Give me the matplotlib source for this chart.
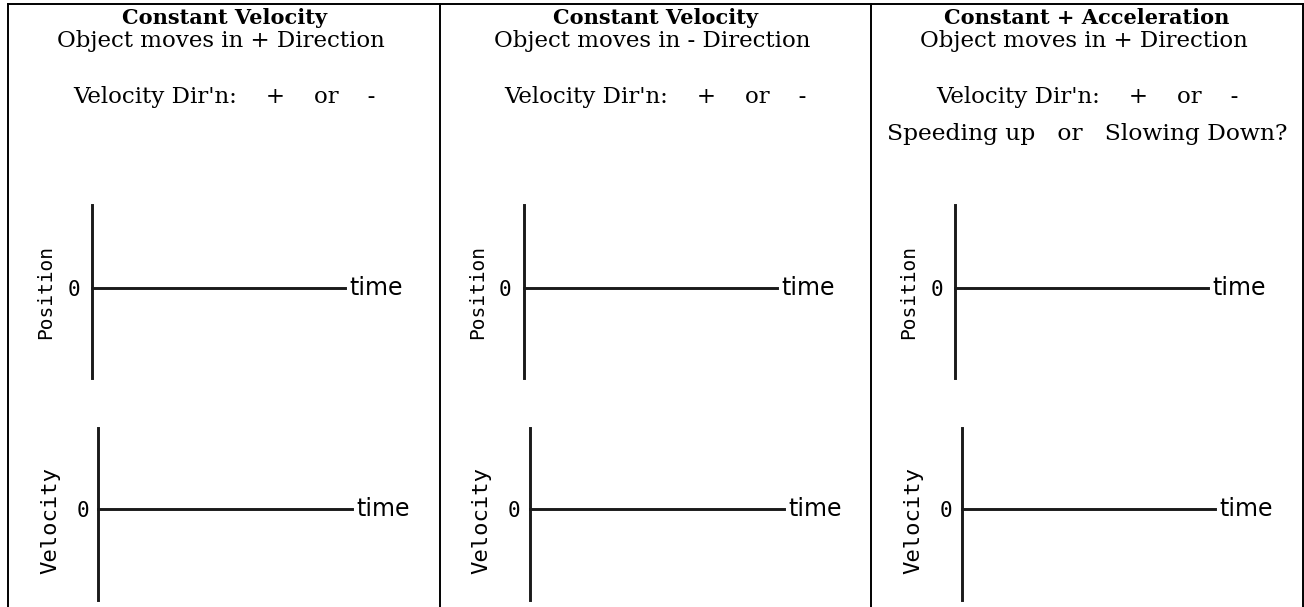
import matplotlib
matplotlib.use('Agg')
import matplotlib.pyplot as plt

# worksheet contents
column_titles = ['Constant Velocity', 'Constant Velocity', 'Constant + Acceleration']
column_subtitles = ['Object moves in + Direction', 'Object moves in - Direction', 'Object moves in + Direction']
direction_prompt = "Velocity Dir'n:    +    or    -"
extra_prompts = ['', '', 'Speeding up   or   Slowing Down?']
graph_ylabels = ['Position', 'Velocity']
graph_xlabel = 'time'
origin_label = '0'

W, H = 1304, 607
fig = plt.figure(figsize=(W / 100, H / 100), dpi=100)

# background axes in pixel coordinates for the table and the headings
bg = fig.add_axes([0, 0, 1, 1])
bg.set_xlim(0, W)
bg.set_ylim(H, 0)
bg.axis('off')

col_left = 8
col_w = 431.5
table_lw = 1.4
bg.plot([col_left, col_left + 3 * col_w], [4, 4], color='black', lw=table_lw, solid_capstyle='projecting')
for k in range(4):
    x = col_left + k * col_w
    bg.plot([x, x], [4, H + 5], color='black', lw=table_lw, solid_capstyle='projecting')

serif = 'DejaVu Serif'
axis_color = '#1a1a1a'


def px_axes(x0, y0, x1, y1):
    return fig.add_axes([x0 / W, 1 - y1 / H, (x1 - x0) / W, (y1 - y0) / H])


# (left, top, right, bottom) of each graph in col 1, y of the zero line, label font
graph_boxes = [(92, 205, 345, 378), (98.5, 428, 352, 600)]
zero_lines = [288, 509]
label_centers = [(46, 292), (50, 520)]
label_sizes = [14, 16]
zero_pads = [8.5, 7]

for i in range(3):
    dx = i * col_w
    cx = 224 + dx
    bg.text(cx, 23.5, column_titles[i], family=serif, weight='bold', fontsize=15,
            ha='center', va='baseline')
    bg.text(cx - 3, 47, column_subtitles[i], family=serif, fontsize=16.5,
            ha='center', va='baseline')
    bg.text(cx, 103, direction_prompt, family=serif, fontsize=16.5,
            ha='center', va='baseline')
    if extra_prompts[i]:
        bg.text(cx, 140, extra_prompts[i], family=serif, fontsize=16.8,
                ha='center', va='baseline')

    for g in range(2):
        x0, y0, x1, y1 = graph_boxes[g]
        ax = px_axes(x0 + dx, y0, x1 + dx, y1)
        frac = (y1 - zero_lines[g]) / (y1 - y0)
        ax.set_xlim(0, 1)
        ax.set_ylim(-frac / (1 - frac), 1)
        ax.patch.set_visible(False)
        for s in ['top', 'right']:
            ax.spines[s].set_visible(False)
        ax.spines['bottom'].set_position(('data', 0))
        for s in ['left', 'bottom']:
            ax.spines[s].set_linewidth(2.1)
            ax.spines[s].set_color(axis_color)
        ax.set_xticks([])
        ax.set_yticks([0])
        ax.set_yticklabels([origin_label], family='DejaVu Sans Mono', fontsize=15)
        ax.tick_params(axis='y', length=0, pad=zero_pads[g])
        ax.annotate(graph_xlabel, xy=(1, 0), xycoords=('axes fraction', 'data'),
                    xytext=(3.5, 0), textcoords='offset points', va='center', ha='left',
                    family='DejaVu Sans', fontsize=17)
        lx, ly = label_centers[g]
        bg.text(lx + dx, ly, graph_ylabels[g], rotation=90, family='DejaVu Sans Mono',
                fontsize=label_sizes[g], ha='center', va='center')

fig.savefig('out.png', dpi=100)
